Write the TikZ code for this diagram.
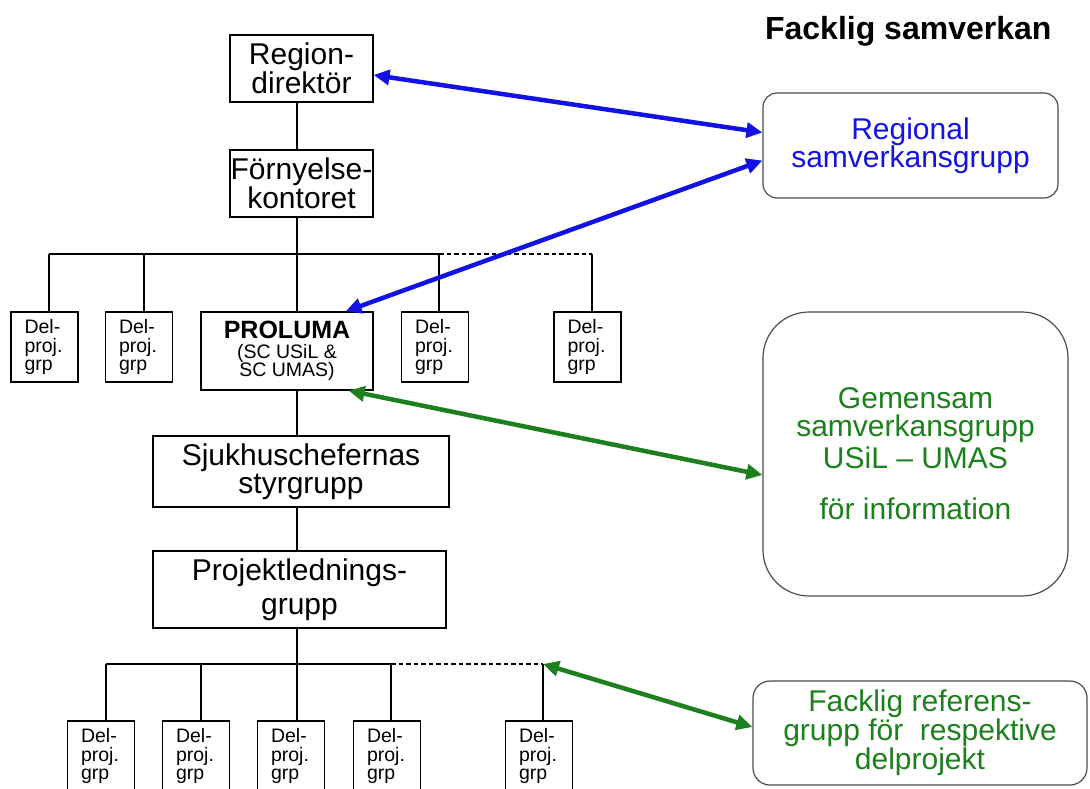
\documentclass[tikz,border=0pt]{standalone}
\usepackage{fontspec}
\setmainfont{Liberation Sans}
\usepackage{xcolor}
\usetikzlibrary{arrows.meta,calc}
\definecolor{regblue}{RGB}{18,18,228}
\definecolor{gemgreen}{RGB}{28,128,28}
\newcommand{\orgfont}{\fontsize{30pt}{29pt}\selectfont}
\newcommand{\delfont}{\fontsize{19.5pt}{18.5pt}\selectfont}
\newcommand{\titlefont}{\fontsize{32pt}{34pt}\selectfont\bfseries}

\begin{document}
\begin{tikzpicture}
    [
    x=1pt,y=-1pt,
    org/.style = {draw,line width=1.2pt,inner sep=0pt,align=center,font=\orgfont},
    del/.style = {draw,line width=1.2pt,inner sep=0pt,minimum width=67pt,minimum height=70pt,text width=40pt,align=left,font=\delfont},
    samv/.style = {draw=black!70,line width=1.2pt,rounded corners=14pt,inner sep=0pt,align=center,font=\orgfont},
    link/.style = {line width=1.1pt},
    dashlink/.style = {line width=1.1pt,dash pattern=on 4.5pt off 3pt},
    twoway/.style = {line width=4.5pt,{Triangle[length=16pt,width=15pt]}-{Triangle[length=16pt,width=15pt]}}
    ]
\useasboundingbox (0,0) rectangle (1090,789);
\clip (0,0) rectangle (1090,789);

\node[anchor=base east,font=\titlefont] (title) at (1055,40) {Facklig samverkan};

% linjeorganisation
\node[org,minimum width=143pt,minimum height=67pt] (dir) at (301.5,68.5) {Region-\\direktör};
\node[org,minimum width=143pt,minimum height=67pt] (forn) at (301.5,183.5) {Förnyelse-\\kontoret};

\node[del] (dt1) at (44.5,347) {Del-\\proj.\\grp};
\node[del] (dt2) at (139,347) {Del-\\proj.\\grp};
\node[org,font=\delfont,minimum width=172pt,minimum height=78pt] (prol) at (287,351) {{\fontsize{25pt}{19pt}\selectfont\bfseries PROLUMA}\\[1.5pt](SC USiL \&\\SC UMAS)};
\node[del] (dt4) at (435,347) {Del-\\proj.\\grp};
\node[del] (dt5) at (587.5,347) {Del-\\proj.\\grp};

\node[org,minimum width=296pt,minimum height=71pt] (sjuk) at (301,471.5) {Sjukhuschefernas\\[-1pt]styrgrupp};
\node[org,minimum width=293pt,minimum height=77pt] (proj) at (299.5,589.5) {Projektlednings-\\[5pt]grupp};

\node[del] (db1) at (101,756) {Del-\\proj.\\grp};
\node[del] (db2) at (196,756) {Del-\\proj.\\grp};
\node[del] (db3) at (291,756) {Del-\\proj.\\grp};
\node[del] (db4) at (387,756) {Del-\\proj.\\grp};
\node[del] (db5) at (539,756) {Del-\\proj.\\grp};

% samverkan
\node[samv,text=regblue,minimum width=295pt,minimum height=105pt] (reg) at (910.5,145.5) {Regional\\[-1pt]samverkansgrupp};
\node[samv,rounded corners=46pt,text=gemgreen,minimum width=305pt,minimum height=284pt] (gem) at (915.5,454) {Gemensam\\[-1pt]samverkansgrupp\\[3pt]USiL – UMAS\\[22pt]för information};
\node[samv,rounded corners=17pt,text=gemgreen,minimum width=334pt,minimum height=104pt] (fref) at (920,733) {Facklig referens-\\grupp för~ respektive\\delprojekt};

% linjer
\coordinate (ju1) at (49,254);
\coordinate (ju2) at (144,254);
\coordinate (ju3) at (297,254);
\coordinate (ju4) at (439,254);
\coordinate (ju5) at (592,254);
\coordinate (jl1) at (106,664);
\coordinate (jl2) at (201,664);
\coordinate (jl3) at (297,664);
\coordinate (jl4) at (391,664);
\coordinate (jl5) at (543,664);

\draw[link] (dir.south -| ju3) -- (forn.north -| ju3);
\draw[link] (forn.south -| ju3) -- (prol.north -| ju3);
\draw[link] (ju1) -- (ju4);
\draw[dashlink] (ju4) -- (ju5);
\foreach \j/\d in {ju1/dt1,ju2/dt2,ju4/dt4,ju5/dt5}
  \draw[link] (\j) -- (\j |- \d.north);
\draw[link] (prol.south -| ju3) -- (sjuk.north -| ju3);
\draw[link] (sjuk.south -| ju3) -- (proj.north -| ju3);
\draw[link] (proj.south -| jl3) -- (jl3);
\draw[link] (jl1) -- (jl4);
\draw[dashlink] (jl4) -- (jl5);
\foreach \j/\d in {jl1/db1,jl2/db2,jl3/db3,jl4/db4,jl5/db5}
  \draw[link] (\j) -- (\j |- \d.north);

% pilar
\draw[twoway,regblue] ($(dir.east)+(0,6.5)$) -- ($(reg.west)+(0,-13)$);
\draw[twoway,regblue] ($(reg.west)+(0,15)$) -- ($(prol.north east)+(-28,0)$);
\draw[twoway,gemgreen] ($(prol.south east)+(-25,0)$) -- ($(gem.west)+(0,21)$);
\draw[twoway,gemgreen] (jl5) -- ($(fref.west)+(0,-6)$);

\end{tikzpicture}
\end{document}
